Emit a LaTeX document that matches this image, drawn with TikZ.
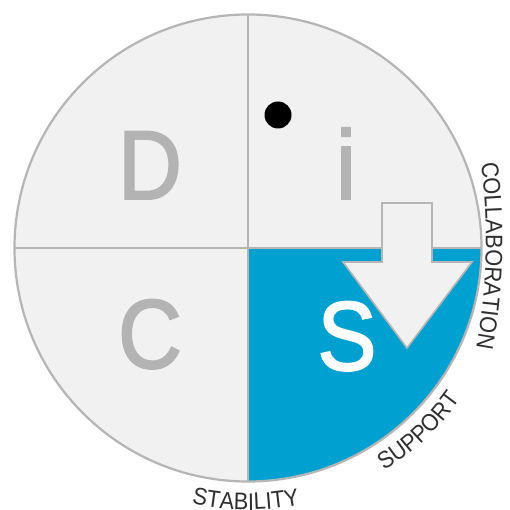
\documentclass[tikz,border=0pt]{standalone}
\usepackage{fontspec}
\setmainfont{Liberation Sans}
\newfontfamily\heavyfont{Liberation Sans}[FakeBold=2, FakeStretch=0.9]
\newfontfamily\narrowfont{Liberation Sans}[FakeStretch=0.91]
\usetikzlibrary{decorations.text,calc}
\definecolor{qfill}{HTML}{F1F1F1}
\definecolor{qline}{HTML}{B5B5B5}
\definecolor{qblue}{HTML}{00A1D1}
\definecolor{lettergray}{HTML}{B3B3B3}
\definecolor{labelgray}{HTML}{2E2E2E}
\newcommand\lblfont{\narrowfont\fontsize{24}{24}\selectfont}
\begin{document}
\begin{tikzpicture}[x=1pt,y=1pt,
  bigletter/.style={font=\heavyfont\fontsize{98}{98}\selectfont, inner sep=0pt, anchor=base, text=lettergray},
  divider/.style={draw=qline, line width=2.2pt},
  arrowshape/.style={fill=qfill, draw=qline, line width=1.6pt, line join=miter},
  curvedlabel/.style={decorate, decoration={text along path, text align=center, text color=labelgray}}]
\useasboundingbox (-248,-262) rectangle (261,248);
\def\R{233.5}
\coordinate (ctr) at (0,0);
\coordinate (top) at (0,\R);
\coordinate (bottom) at (0,-\R);
\coordinate (left) at (-\R,0);
\coordinate (right) at (\R,0);
% quadrants
\fill[qfill] (ctr) circle (\R);
\fill[qblue] (ctr) -- (right) arc[start angle=0, end angle=-90, radius=\R] -- cycle;
\draw[divider] (ctr) circle (\R);
\draw[divider] (top) -- (bottom);
\draw[divider] (left) -- (right);
% letters
\node[bigletter] (D) at (-98,49) {D};
\node[bigletter] (i) at (98,49) {i};
\node[bigletter] (C) at (-98,-120) {C};
\node[bigletter, text=white] (S) at (99,-122) {S};
% dot
\fill[black] (30,133) circle (13.5);
% arrow
\draw[arrowshape] (134,45) -- (184,45) -- (184,-14) -- (224,-14) -- (159,-100) -- (95,-14) -- (134,-14) -- cycle;
% curved labels
\coordinate (cc) at (-362,8);
\path[curvedlabel, decoration={text={|\lblfont|COLLABORATION}}] ($(cc)+(14.5:600)$) arc[start angle=14.5, end angle=-17.5, radius=600];
\path[curvedlabel, decoration={text={|\lblfont|SUPPORT}}] (-77:261) arc[start angle=-77, end angle=-17, radius=261];
\path[curvedlabel, decoration={text={|\lblfont|STABILITY}}] (-120.5:262) arc[start angle=-120.5, end angle=-60.5, radius=262];
\end{tikzpicture}
\end{document}
